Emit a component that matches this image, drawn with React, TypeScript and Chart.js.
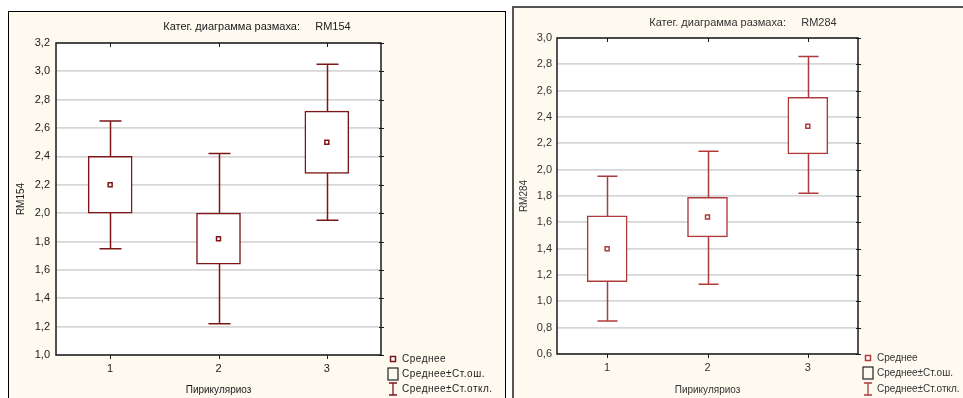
import React, { useEffect, useRef } from "react";
import { Chart, registerables } from "chart.js";

Chart.register(...registerables);

// ---------- data ----------
const categories = ["1", "2", "3"];
const legendLabels = ["Среднее", "Среднее±Ст.ош.", "Среднее±Ст.откл."];
const xAxisTitle = "Пирикуляриоз";

// RM154 (left panel)
const rm154Title = "Катег. диаграмма размаха:     RM154";
const rm154Mean = [2.2, 1.82, 2.5];
const rm154SeLow = [2.0, 1.64, 2.28];
const rm154SeHigh = [2.4, 2.0, 2.72];
const rm154SdLow = [1.75, 1.22, 1.95];
const rm154SdHigh = [2.65, 2.42, 3.05];
const rm154YRange = [1.0, 3.2];

// RM284 (right panel)
const rm284Title = "Катег. диаграмма размаха:     RM284";
const rm284Mean = [1.4, 1.64, 2.33];
const rm284SeLow = [1.15, 1.49, 2.12];
const rm284SeHigh = [1.65, 1.79, 2.55];
const rm284SdLow = [0.85, 1.13, 1.82];
const rm284SdHigh = [1.95, 2.14, 2.86];
const rm284YRange = [0.6, 3.0];

const yStep = 0.2;

type PanelCfg = {
  name: string;
  title: string;
  mean: number[];
  seLow: number[];
  seHigh: number[];
  sdLow: number[];
  sdHigh: number[];
  yRange: number[];
  W: number;
  H: number;
  plotLeft: number;
  plotRight: number;
  plotTop: number;
  plotBottom: number;
  boxW: number;
  capW: number;
  color: string;
  textColor: string;
  titleX: number;
  titleY: number;
  legendX: number;
  legendTextX: number;
  legendY: number[];
  legendSpacing: string;
  xTickPad: number;
  xTitlePad: number;
  yTickPad: number;
  yTitlePad: number;
};

const BG = "#fffaf0";
const FONT = "'Liberation Sans', Arial, sans-serif";

function Panel({ cfg }: { cfg: PanelCfg }) {
  const ref = useRef<HTMLCanvasElement | null>(null);
  useEffect(() => {
    const canvas = ref.current;
    if (!canvas) return;
    const c = cfg.color;

    const custom = {
      id: "statisticaBox",
      beforeDraw(chart: any) {
        const { ctx, chartArea } = chart;
        ctx.save();
        ctx.fillStyle = BG;
        ctx.fillRect(0, 0, chart.width, chart.height);
        ctx.fillStyle = "#ffffff";
        ctx.fillRect(chartArea.left, chartArea.top, chartArea.right - chartArea.left, chartArea.bottom - chartArea.top);
        ctx.restore();
      },
      beforeDatasetsDraw(chart: any) {
        const { ctx } = chart;
        const xs = chart.scales.x;
        const ys = chart.scales.y;
        ctx.save();
        ctx.strokeStyle = c;
        ctx.lineWidth = 1.5;
        categories.forEach((_, i) => {
          const x = Math.round(xs.getPixelForValue(i)) + 0.5;
          const yHi = ys.getPixelForValue(cfg.sdHigh[i]);
          const yLo = ys.getPixelForValue(cfg.sdLow[i]);
          ctx.beginPath();
          ctx.moveTo(x, yHi);
          ctx.lineTo(x, yLo);
          ctx.moveTo(x - cfg.capW / 2, yHi);
          ctx.lineTo(x + cfg.capW / 2, yHi);
          ctx.moveTo(x - cfg.capW / 2, yLo);
          ctx.lineTo(x + cfg.capW / 2, yLo);
          ctx.stroke();
        });
        ctx.restore();
      },
      afterDraw(chart: any) {
        const { ctx, chartArea } = chart;
        const xs = chart.scales.x;
        const ys = chart.scales.y;
        ctx.save();
        // frame
        ctx.strokeStyle = "#1a1a1a";
        ctx.lineWidth = 1.5;
        ctx.strokeRect(chartArea.left, chartArea.top, chartArea.right - chartArea.left, chartArea.bottom - chartArea.top);
        // small ticks
        ctx.lineWidth = 1;
        ctx.beginPath();
        categories.forEach((_, i) => {
          const x = Math.round(xs.getPixelForValue(i)) + 0.5;
          ctx.moveTo(x, chartArea.top);
          ctx.lineTo(x, chartArea.top + 4);
          ctx.moveTo(x, chartArea.bottom);
          ctx.lineTo(x, chartArea.bottom + 4);
        });
        ys.ticks.forEach((t: any) => {
          const y = Math.round(ys.getPixelForValue(t.value)) + 0.5;
          ctx.moveTo(chartArea.right - 2, y);
          ctx.lineTo(chartArea.right + 3, y);
        });
        ctx.stroke();

        // title
        ctx.fillStyle = cfg.textColor;
        ctx.font = `11px ${FONT}`;
        ctx.textAlign = "center";
        ctx.textBaseline = "middle";
        ctx.fillText(cfg.title, cfg.titleX, cfg.titleY);

        // legend
        const lx = cfg.legendX;
        const ly = cfg.legendY;
        ctx.strokeStyle = c;
        ctx.lineWidth = 1.5;
        ctx.fillStyle = "#fff";
        ctx.fillRect(lx - 2.5, ly[0] - 2.5, 5, 5);
        ctx.strokeRect(lx - 2.5, ly[0] - 2.5, 5, 5);
        ctx.strokeStyle = "#222";
        ctx.lineWidth = 1.2;
        ctx.strokeRect(lx - 5, ly[1] - 6, 10, 12);
        ctx.strokeStyle = c;
        ctx.lineWidth = 1.3;
        ctx.beginPath();
        ctx.moveTo(lx, ly[2] - 6);
        ctx.lineTo(lx, ly[2] + 6);
        ctx.moveTo(lx - 4, ly[2] - 6);
        ctx.lineTo(lx + 4, ly[2] - 6);
        ctx.moveTo(lx - 4, ly[2] + 6);
        ctx.lineTo(lx + 4, ly[2] + 6);
        ctx.stroke();
        ctx.fillStyle = cfg.textColor;
        ctx.font = `10px ${FONT}`;
        (ctx as any).letterSpacing = cfg.legendSpacing;
        ctx.textAlign = "left";
        ctx.textBaseline = "middle";
        legendLabels.forEach((t, i) => ctx.fillText(t, cfg.legendTextX, ly[i]));
        ctx.restore();
      },
    };

    const chart = new Chart(canvas, {
      type: "bar",
      data: {
        labels: categories,
        datasets: [
          {
            type: "bar",
            label: legendLabels[1],
            data: cfg.seLow.map((v, i) => [v, cfg.seHigh[i]]) as any,
            backgroundColor: "#ffffff",
            borderColor: c,
            borderWidth: 1.5,
            borderSkipped: false,
            barThickness: cfg.boxW,
            order: 2,
          } as any,
          {
            type: "line",
            label: legendLabels[0],
            data: cfg.mean,
            showLine: false,
            pointStyle: "rect",
            pointRadius: 2.8,
            pointBackgroundColor: "#ffffff",
            pointBorderColor: c,
            pointBorderWidth: 1.5,
            order: 1,
          } as any,
        ],
      },
      options: {
        animation: false,
        responsive: false,
        maintainAspectRatio: false,
        events: [],
        layout: {
          padding: { left: 0, top: cfg.plotTop, right: cfg.W - cfg.plotRight, bottom: 0 },
        },
        plugins: {
          legend: { display: false },
          tooltip: { enabled: false },
          title: { display: false },
        },
        scales: {
          x: {
            type: "category",
            offset: true,
            grid: { display: false, drawTicks: false },
            border: { display: false },
            ticks: { color: cfg.textColor, font: { family: FONT, size: 11 }, padding: cfg.xTickPad, maxRotation: 0 },
            title: {
              display: true,
              text: xAxisTitle,
              color: cfg.textColor,
              font: { family: FONT, size: 10 },
              padding: { top: 0, bottom: cfg.xTitlePad },
            },
            afterFit: (s: any) => {
              s.height = cfg.H - cfg.plotBottom;
            },
          },
          y: {
            type: "linear",
            min: cfg.yRange[0],
            max: cfg.yRange[1],
            ticks: {
              stepSize: yStep,
              color: cfg.textColor,
              font: { family: FONT, size: 11 },
              padding: cfg.yTickPad,
              callback: (v: any) => Number(v).toFixed(1).replace(".", ","),
            },
            grid: { color: "#d6d6d6", lineWidth: 1.8, drawTicks: false },
            border: { display: false },
            title: {
              display: true,
              text: cfg.name,
              color: cfg.textColor,
              font: { family: FONT, size: 10 },
              padding: { top: cfg.yTitlePad, bottom: 0 },
            },
            afterFit: (s: any) => {
              s.width = cfg.plotLeft;
            },
          },
        },
      },
      plugins: [custom],
    });
    return () => chart.destroy();
  }, [cfg]);
  return <canvas ref={ref} width={cfg.W} height={cfg.H} style={{ display: "block", width: cfg.W, height: cfg.H }} />;
}

const leftCfg: PanelCfg = {
  name: "RM154",
  title: rm154Title,
  mean: rm154Mean,
  seLow: rm154SeLow,
  seHigh: rm154SeHigh,
  sdLow: rm154SdLow,
  sdHigh: rm154SdHigh,
  yRange: rm154YRange,
  W: 496,
  H: 386,
  plotLeft: 47,
  plotRight: 372,
  plotTop: 31,
  plotBottom: 343,
  boxW: 44,
  capW: 22,
  color: "#7d1616",
  textColor: "#1a1a1a",
  titleX: 248,
  titleY: 15,
  legendX: 384,
  legendTextX: 393,
  legendY: [347, 362, 377],
  legendSpacing: "0.5px",
  xTickPad: 7,
  xTitlePad: 2,
  yTickPad: 6,
  yTitlePad: 6,
};

const rightCfg: PanelCfg = {
  name: "RM284",
  title: rm284Title,
  mean: rm284Mean,
  seLow: rm284SeLow,
  seHigh: rm284SeHigh,
  sdLow: rm284SdLow,
  sdHigh: rm284SdHigh,
  yRange: rm284YRange,
  W: 449,
  H: 390,
  plotLeft: 43,
  plotRight: 344,
  plotTop: 30,
  plotBottom: 346,
  boxW: 40,
  capW: 20,
  color: "#b03a3a",
  textColor: "#333333",
  titleX: 229,
  titleY: 15,
  legendX: 354,
  legendTextX: 363,
  legendY: [350, 365, 381],
  legendSpacing: "0px",
  xTickPad: 7,
  xTitlePad: 2,
  yTickPad: 5,
  yTitlePad: 4,
};

export default function App() {
  return (
    <div style={{ position: "fixed", left: 0, top: 0, width: 963, height: 398, background: "#ffffff", overflow: "hidden" }}>
      <div
        style={{
          position: "absolute",
          left: 8,
          top: 11,
          width: 496,
          height: 400,
          borderLeft: "1px solid #000",
          borderTop: "1px solid #000",
          borderRight: "1px solid #000",
          background: BG,
        }}
      >
        <Panel cfg={leftCfg} />
      </div>
      <div
        style={{
          position: "absolute",
          left: 512,
          top: 6,
          width: 451,
          height: 400,
          borderLeft: "2px solid #555",
          borderTop: "2px solid #555",
          background: BG,
        }}
      >
        <Panel cfg={rightCfg} />
      </div>
    </div>
  );
}
